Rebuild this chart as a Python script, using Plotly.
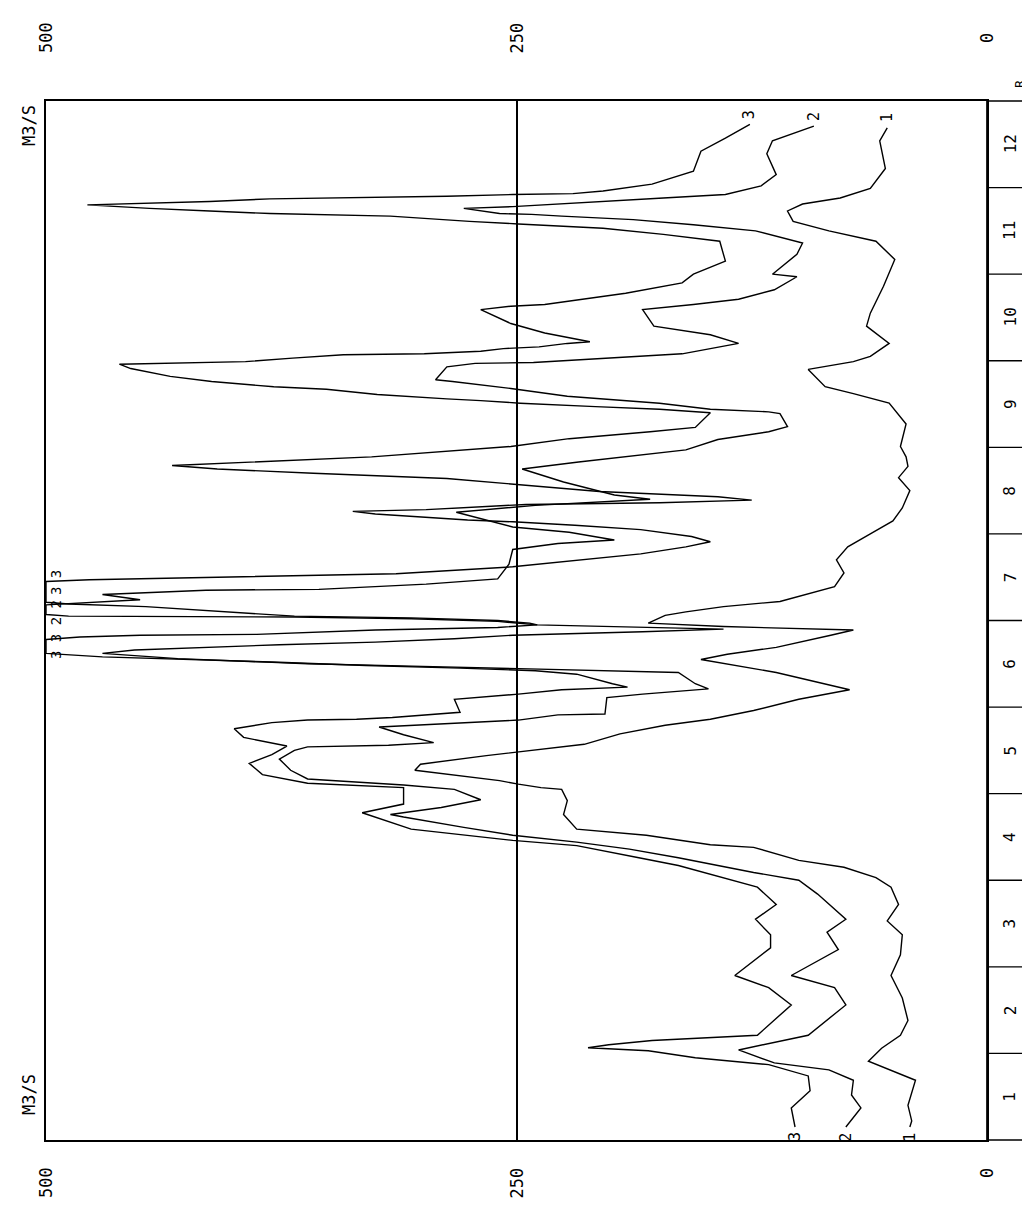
import plotly.graph_objects as go

months = [str(m) for m in range(1, 13)]
value_ticks = [0, 250, 500]
value_labels = ["0", "250", "500"]

# month position (0..12, read from the month strip) and discharge in m3/s
t1 = [0.15, 0.22, 0.40, 0.69, 0.91, 1.06, 1.21, 1.38, 1.64, 1.90, 2.14, 2.37, 2.53, 2.72, 2.92, 3.03, 3.15,
      3.23, 3.38, 3.41, 3.52, 3.59, 3.76, 3.92, 4.05, 4.07, 4.11, 4.15, 4.27, 4.34, 4.44, 4.48, 4.57, 4.69,
      4.79, 4.86, 4.96, 5.09, 5.20, 5.40, 5.50, 5.55, 5.61, 5.69, 5.83, 5.89, 5.93, 5.97, 6.06, 6.10, 6.16,
      6.22, 6.39, 6.55, 6.70, 6.85, 7.00, 7.15, 7.30, 7.50, 7.65, 7.78, 7.89, 8.01, 8.27, 8.51, 8.62, 8.70,
      8.90, 8.99, 9.05, 9.20, 9.40, 9.55, 9.86, 10.17, 10.38, 10.50, 10.61, 10.73, 10.81, 10.88, 10.99,
      11.22, 11.54, 11.69]
q1 = [41, 40, 42, 38, 63, 56, 46, 42, 45, 51, 46, 45, 53, 47, 51, 59, 76,
      100, 124, 147, 181, 218, 225, 223, 226, 237, 249, 259, 304, 301, 266, 249, 214, 195,
      171, 147, 124, 100, 73, 112, 138, 152, 138, 112, 83, 71, 140, 180, 171, 160, 140,
      110, 81, 76, 80, 74, 62, 50, 45, 41, 47, 42, 43, 46, 43, 52, 71, 86,
      95, 71, 62, 52, 64, 62, 55, 49, 59, 84, 103, 106, 98, 78, 62,
      54, 57, 53]

t2 = [0.15, 0.37, 0.52, 0.69, 0.81, 0.89, 1.04, 1.21, 1.56, 1.76, 1.90, 2.20, 2.40, 2.55, 2.84, 3.00, 3.09,
      3.17, 3.26, 3.36, 3.44, 3.52, 3.61, 3.73, 3.76, 3.84, 3.93, 4.05, 4.10, 4.17, 4.27, 4.40, 4.50, 4.54,
      4.56, 4.59, 4.68, 4.77, 4.80, 4.85, 4.91, 4.92, 5.11, 5.15, 5.21, 5.27, 5.40, 5.43, 5.45, 5.47, 5.50,
      5.56, 5.62, 5.66, 5.72, 5.75, 5.79, 5.83, 5.87, 5.90, 5.95, 5.99, 6.02, 6.04, 6.05, 6.07, 6.18, 6.24,
      6.30, 6.35, 6.36, 6.42, 6.48, 6.65, 6.82, 6.89, 6.93, 7.02, 7.08, 7.25, 7.33, 7.40, 7.45, 7.60, 7.75,
      7.83, 7.97, 8.09, 8.18, 8.24, 8.39, 8.41, 8.44, 8.51, 8.59, 8.68, 8.76, 8.78, 8.93, 8.97, 8.98, 9.01,
      9.08, 9.20, 9.30, 9.40, 9.59, 9.65, 9.71, 9.82, 9.97, 10.00, 10.23, 10.36, 10.50, 10.57, 10.63, 10.67,
      10.69, 10.70, 10.76, 10.78, 10.81, 10.84, 10.88, 10.92, 11.02, 11.15, 11.39, 11.54, 11.71]
q2 = [75, 67, 72, 71, 84, 113, 132, 95, 75, 81, 104, 79, 85, 75, 90, 100, 124,
      142, 164, 190, 218, 252, 278, 310, 317, 290, 269, 283, 310, 361, 370, 376, 368, 361,
      318, 294, 310, 323, 292, 249, 228, 203, 202, 183, 148, 155, 164, 218, 260, 300, 361,
      430, 470, 453, 376, 325, 283, 252, 183, 140, 239, 260, 306, 368, 488, 500, 500, 450,
      470, 415, 355, 298, 260, 254, 252, 228, 198, 222, 252, 282, 240, 179, 198, 225, 247,
      217, 160, 143, 116, 106, 110, 116, 147, 174, 223, 253, 284, 293, 287, 272, 241, 217,
      162, 132, 147, 177, 183, 156, 132, 113, 101, 114, 101, 98, 123, 156, 188, 226,
      242, 259, 278, 252, 226, 204, 172, 139, 120, 112, 117, 114, 92]

t3 = [0.15, 0.37, 0.57, 0.74, 0.87, 0.95, 1.03, 1.065, 1.10, 1.15, 1.21, 1.56, 1.76, 1.90, 2.22, 2.37, 2.55,
      2.72, 2.92, 3.07, 3.17, 3.26, 3.40, 3.46, 3.52, 3.59, 3.78, 3.88, 4.07, 4.12, 4.22, 4.35, 4.45, 4.55,
      4.65, 4.75, 4.82, 4.85, 4.86, 4.88, 4.94, 5.09, 5.15, 5.20, 5.23, 5.27, 5.38, 5.42, 5.45, 5.48, 5.52,
      5.58, 5.62, 5.78, 5.81, 5.83, 5.84, 5.89, 5.92, 5.95, 5.97, 6.00, 6.03, 6.05, 6.16, 6.19, 6.21, 6.45,
      6.47, 6.50, 6.54, 6.62, 6.70, 6.77, 6.85, 6.91, 6.97, 7.05, 7.10, 7.14, 7.16, 7.23, 7.26, 7.28, 7.34,
      7.36, 7.39, 7.43, 7.49, 7.58, 7.64, 7.70, 7.75, 7.79, 7.89, 8.01, 8.10, 8.18, 8.23, 8.40, 8.44, 8.47,
      8.51, 8.54, 8.56, 8.61, 8.67, 8.70, 8.76, 8.82, 8.91, 8.96, 8.97, 8.99, 9.03, 9.07, 9.08, 9.11, 9.14,
      9.16, 9.20, 9.22, 9.32, 9.43, 9.59, 9.63, 9.65, 9.78, 9.90, 10.00, 10.15, 10.38, 10.46, 10.53, 10.58,
      10.61, 10.67, 10.70, 10.73, 10.76, 10.80, 10.82, 10.84, 10.87, 10.89, 10.90, 10.92, 10.93, 10.96,
      11.04, 11.19, 11.42, 11.57, 11.73]
q3 = [102, 104, 94, 95, 116, 155, 180, 212, 201, 178, 122, 104, 116, 134, 115, 115, 123,
      112, 122, 147, 164, 185, 218, 252, 278, 306, 332, 310, 310, 361, 385, 392, 380, 372,
      395, 400, 380, 361, 335, 316, 280, 283, 249, 226, 191, 199, 218, 240, 280, 330, 380,
      470, 500, 500, 482, 450, 388, 325, 260, 239, 243, 260, 306, 368, 447, 488, 500, 500,
      477, 406, 314, 252, 217, 184, 160, 147, 157, 184, 219, 252, 276, 325, 337, 298, 245,
      174, 125, 143, 206, 252, 287, 358, 409, 433, 327, 253, 222, 179, 155, 147, 174, 208,
      248, 269, 287, 324, 351, 379, 412, 434, 455, 461, 440, 394, 369, 342, 299, 269, 257,
      238, 223, 211, 235, 253, 269, 253, 235, 192, 162, 156, 139, 142, 172, 204, 249,
      275, 317, 381, 413, 445, 478, 445, 413, 381, 317, 287, 252, 220, 204,
      178, 156, 152, 139, 126]

series = [("1", t1, q1), ("2", t2, q2), ("3", t3, q3)]
clip_labels = [("3 3", 575), ("3 3 2 2", 622)]

FONT = "DejaVu Sans Mono"
W, H = 1030, 1213
L, R, T, B = 38, 979, 93, 1132
STRIP = 1025


def px(xpix):
    return (xpix - L) / (R - L)


def py(ypix):
    return (B - ypix) / (B - T)


def label(x, y, text, xref="paper", yref="paper", size=14, **kw):
    d = dict(x=x, y=y, xref=xref, yref=yref, text=text, showarrow=False, textangle=-90,
             xanchor="center", yanchor="middle", font=dict(family=FONT, size=size, color="black"))
    d.update(kw)
    return d


fig = go.Figure()
for name, t, q in series:
    fig.add_trace(go.Scatter(x=q, y=t, mode="lines", name=name,
                             line=dict(color="black", width=1.4, shape="linear"),
                             hoverinfo="skip", showlegend=False))

ann = []
for name, t, q in series:
    ann.append(label(q[0], t[0], name, xref="x", yref="y", yshift=-10, size=15))
    ann.append(label(q[-1], t[-1], name, xref="x", yref="y", yshift=10, size=15))

for v, lab in zip(value_ticks, value_labels):
    ann.append(label(v, py(30), lab, xref="x", size=17))
    ann.append(label(v, py(1165 if lab == "0" else 1175), lab, xref="x", size=17))

ann.append(label(px(21), py(118), "M3/S", size=17))
ann.append(label(px(21), py(1087), "M3/S", size=17))
ann.append(label(px(1012), py(76), "R", size=13))

for lab, ypix in clip_labels:
    ann.append(label(px(48), py(ypix), lab, size=14))

shapes = [dict(type="rect", xref="paper", yref="paper", x0=1, x1=px(STRIP), y0=0, y1=1,
               line=dict(color="black", width=1.7))]
for k in range(1, 12):
    shapes.append(dict(type="line", xref="paper", yref="y", x0=1, x1=px(STRIP), y0=k, y1=k,
                       line=dict(color="black", width=1.3)))
for k, m in enumerate(months):
    ann.append(label(px((R + STRIP) / 2), k + 0.5, m, yref="y", size=16))

fig.update_layout(
    width=W, height=H, margin=dict(l=L, r=W - R, t=T, b=H - B),
    paper_bgcolor="white", plot_bgcolor="white",
    xaxis=dict(range=[500, 0], showline=True, mirror=True, linecolor="black", linewidth=1.8,
               tickvals=[250], showticklabels=False, ticks="", showgrid=True, gridcolor="black",
               gridwidth=1.6, zeroline=False, fixedrange=True),
    yaxis=dict(range=[0, 12], showline=True, mirror=True, linecolor="black", linewidth=1.8,
               showticklabels=False, ticks="", showgrid=False, zeroline=False, fixedrange=True),
    annotations=ann, shapes=shapes, showlegend=False,
)

fig.write_html("out.html")
